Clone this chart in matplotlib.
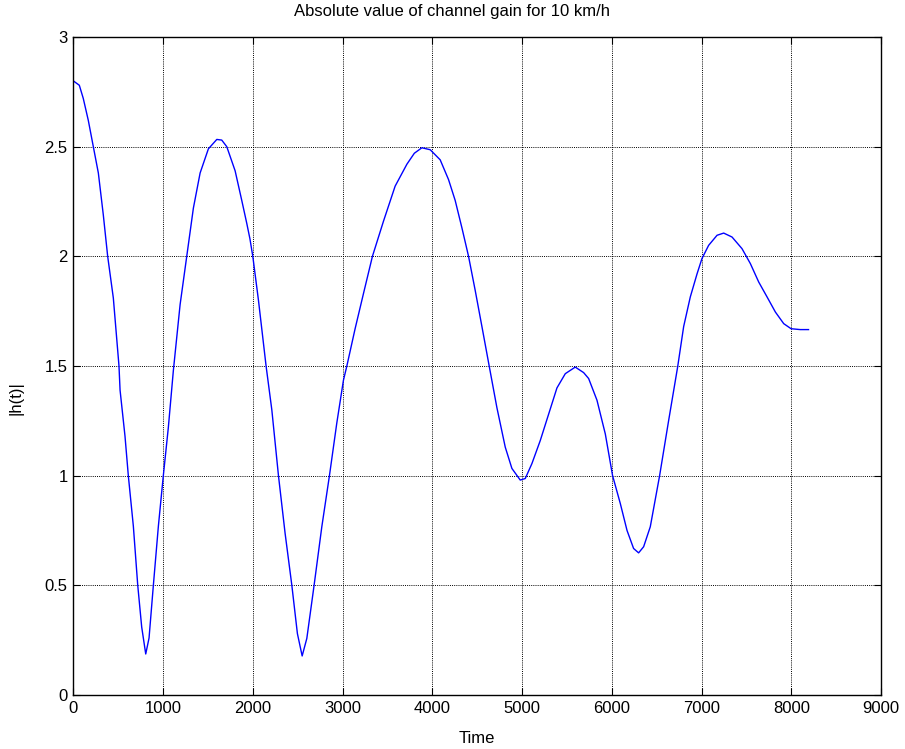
import matplotlib
matplotlib.use("Agg")
import matplotlib.pyplot as plt

plt.rcParams['font.family'] = ['Liberation Sans', 'DejaVu Sans']

# Channel gain magnitude samples (time index, |h(t)|)
time = [0, 67, 111, 167, 223, 279, 334, 383, 446, 509, 521, 576, 613, 669, 718,
        762, 807, 844, 892, 948, 1003, 1059, 1115, 1190, 1264, 1338, 1413, 1505,
        1599, 1654, 1710, 1803, 1877, 1933, 1968, 2000, 2063, 2148, 2212, 2286,
        2360, 2435, 2497, 2550, 2602, 2683, 2769, 2854, 2936, 3010, 3048, 3140,
        3233, 3333, 3456, 3586, 3717, 3800, 3884, 3977, 4088, 4181, 4255, 4330,
        4404, 4478, 4553, 4634, 4720, 4813, 4887, 4980, 5036, 5110, 5203, 5296,
        5389, 5482, 5593, 5686, 5742, 5835, 5928, 6009, 6095, 6170, 6243, 6299,
        6355, 6429, 6533, 6633, 6734, 6801, 6875, 6950, 7005, 7079, 7173, 7247,
        7340, 7451, 7544, 7637, 7730, 7823, 7916, 7998, 8100, 8192]
gain = [2.80, 2.78, 2.72, 2.62, 2.50, 2.38, 2.19, 2.00, 1.81, 1.50, 1.39, 1.18,
        1.00, 0.77, 0.50, 0.31, 0.187, 0.26, 0.50, 0.77, 1.00, 1.22, 1.48, 1.78,
        2.00, 2.22, 2.38, 2.49, 2.533, 2.53, 2.50, 2.39, 2.255, 2.15, 2.08, 2.00,
        1.80, 1.50, 1.30, 1.00, 0.737, 0.50, 0.28, 0.178, 0.258, 0.50, 0.767,
        1.00, 1.24, 1.435, 1.50, 1.67, 1.83, 2.00, 2.16, 2.32, 2.42, 2.47, 2.495,
        2.486, 2.44, 2.35, 2.255, 2.13, 2.00, 1.845, 1.68, 1.50, 1.31, 1.13,
        1.033, 0.98, 0.987, 1.055, 1.16, 1.28, 1.40, 1.465, 1.495, 1.47, 1.443,
        1.344, 1.19, 1.00, 0.873, 0.75, 0.668, 0.648, 0.676, 0.767, 1.00, 1.25,
        1.496, 1.68, 1.815, 1.92, 1.99, 2.05, 2.096, 2.106, 2.088, 2.035, 1.967,
        1.883, 1.815, 1.746, 1.693, 1.67, 1.666, 1.666]

x_ticks = [0, 1000, 2000, 3000, 4000, 5000, 6000, 7000, 8000, 9000]
y_ticks = [0, 0.5, 1, 1.5, 2, 2.5, 3]
y_labels = ['0', '0.5', '1', '1.5', '2', '2.5', '3']

fig = plt.figure(figsize=(9.05, 7.49), dpi=100)
ax = fig.add_axes([0.081, 0.0721, 0.8925, 0.8785])

ax.plot(time, gain, color=(0, 0, 1), linewidth=1.0)

ax.set_xlim(0, 9000)
ax.set_ylim(0, 3)
ax.set_xticks(x_ticks)
ax.set_xticklabels([str(v) for v in x_ticks])
ax.set_yticks(y_ticks)
ax.set_yticklabels(y_labels)

ax.grid(True, color='black', linestyle=(0, (1, 1.2)), linewidth=0.7)
ax.tick_params(direction='in', top=True, right=True, length=5, width=0.8,
               labelsize=12, pad=4, colors='black')
for s in ax.spines.values():
    s.set_linewidth(1.0)
    s.set_color('black')

ax.set_title('Absolute value of channel gain for 10 km/h', fontsize=12,
             pad=15, x=0.469)
ax.set_xlabel('Time', fontsize=12, labelpad=11)
ax.set_ylabel('|h(t)|', fontsize=12)
ax.yaxis.set_label_coords(-0.062, 0.451)

fig.savefig('out.png', dpi=100)
